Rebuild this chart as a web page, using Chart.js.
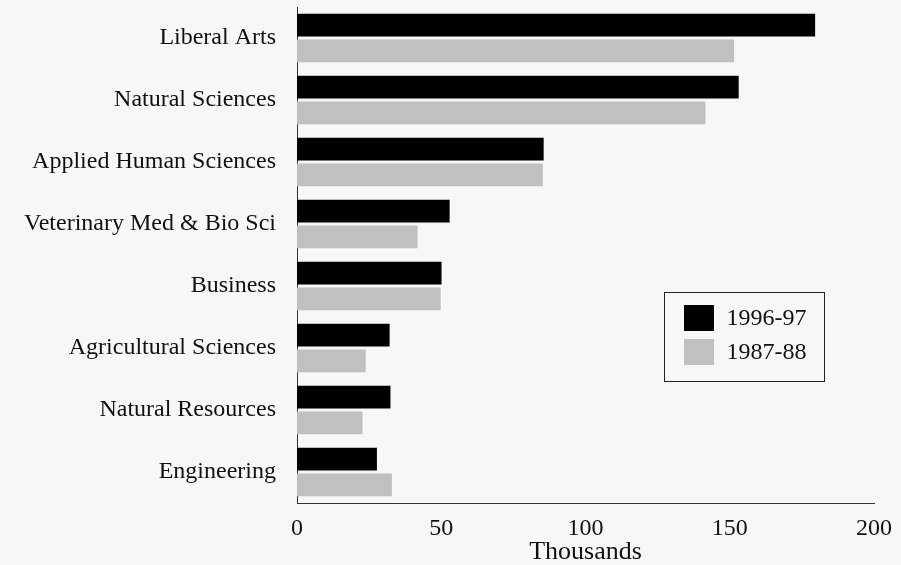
<!DOCTYPE html>
<html>
<head>
<meta charset="utf-8">
<script src="https://cdn.jsdelivr.net/npm/chart.js@4"></script>
<style>
  html, body { margin: 0; padding: 0; background: #f7f7f7; }
  #wrap { width: 901px; height: 565px; position: relative; }
</style>
</head>
<body>
<div id="wrap"><canvas id="chart"></canvas></div>
<script>
const categories = ["Liberal Arts", "Natural Sciences", "Applied Human Sciences", "Veterinary Med & Bio Sci",
    "Business", "Agricultural Sciences", "Natural Resources", "Engineering"];
const series1996 = [179.6, 153.1, 85.5, 52.9, 50.1, 32.1, 32.4, 27.7];
const series1987 = [151.5, 141.6, 85.2, 41.8, 49.8, 23.8, 22.7, 32.9];
const xTicks = [0, 50, 100, 150, 200];

const FONT = "'Liberation Serif', 'Times New Roman', serif";

// legend box drawn inside the plot area
const boxLegend = {
    id: "boxLegend",
    afterDraw(chart) {
        const ctx = chart.ctx;
        const x = 664.5, y = 292.5, w = 160, h = 89;
        ctx.save();
        ctx.fillStyle = "#f7f7f7";
        ctx.fillRect(x, y, w, h);
        ctx.strokeStyle = "#222";
        ctx.lineWidth = 1;
        ctx.strokeRect(x, y, w, h);
        ctx.font = "24px " + FONT;
        ctx.textBaseline = "middle";
        chart.data.datasets.forEach((ds, i) => {
            const sy = y + 12.5 + i * 34;
            ctx.fillStyle = ds.backgroundColor;
            ctx.fillRect(x + 19.5, sy, 30, 26);
            ctx.fillStyle = "#111";
            ctx.fillText(ds.label, x + 62, sy + 14);
        });
        ctx.restore();
    }
};

new Chart(document.getElementById("chart"), {
    type: "bar",
    data: {
        labels: categories,
        datasets: [
            { label: "1996-97", data: series1996, backgroundColor: "#000000", categoryPercentage: 0.83, barPercentage: 0.88 },
            { label: "1987-88", data: series1987, backgroundColor: "#c0c0c0", categoryPercentage: 0.83, barPercentage: 0.88 }
        ]
    },
    options: {
        indexAxis: "y",
        responsive: true,
        maintainAspectRatio: false,
        animation: false,
        layout: { padding: { top: 7, right: 27, left: 0, bottom: 0 } },
        plugins: { legend: { display: false }, tooltip: { enabled: false } },
        scales: {
            x: {
                min: 0, max: 200,
                afterBuildTicks: s => { s.ticks = xTicks.map(v => ({ value: v })); },
                grid: { display: false, drawTicks: false },
                border: { color: "#333", width: 1 },
                ticks: { color: "#111", font: { family: FONT, size: 24 }, padding: 11 },
                title: { display: true, text: "Thousands", color: "#111", font: { family: FONT, size: 26 }, padding: { top: -3, bottom: -3 } },
                afterFit: s => { s.height = 62; s.paddingLeft = 0; s.paddingRight = 0; }
            },
            y: {
                grid: { display: false, drawTicks: false },
                border: { color: "#333", width: 1 },
                ticks: { color: "#111", font: { family: FONT, size: 24 }, padding: 21 },
                afterFit: s => { s.width = 297; s.paddingTop = 0; s.paddingBottom = 0; }
            }
        }
    },
    plugins: [boxLegend]
});
</script>
</body>
</html>
